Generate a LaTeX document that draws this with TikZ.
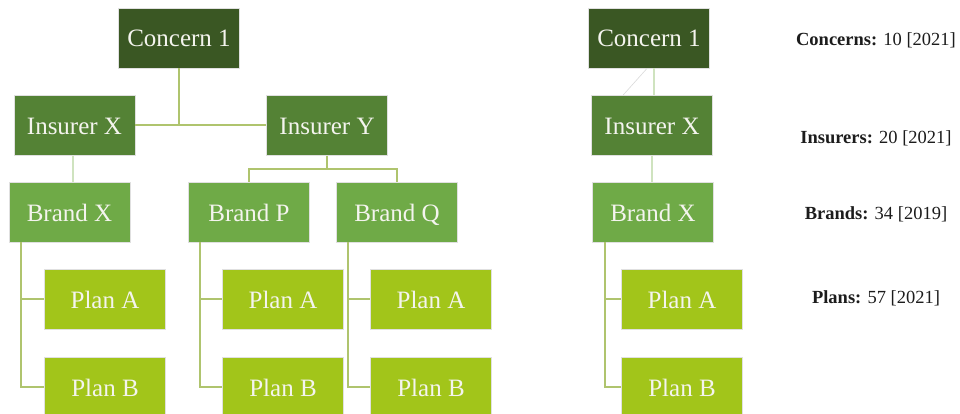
\documentclass[tikz,border=0pt]{standalone}
\usepackage{fontspec}
\setmainfont{Liberation Serif}
\definecolor{concernfill}{HTML}{3A5723}
\definecolor{insurerfill}{HTML}{548235}
\definecolor{brandfill}{HTML}{6FAA47}
\definecolor{planfill}{HTML}{A2C51A}
\definecolor{linkcol}{HTML}{AFC46E}
\definecolor{palelink}{HTML}{CFE3BF}
\definecolor{boxtext}{HTML}{F4F4EE}
\definecolor{sidetext}{HTML}{1C1C1C}
\begin{document}
\begin{tikzpicture}[x=1pt,y=-1pt,
  orgbox/.style={rectangle, draw=black!12, line width=0.8pt,
    minimum width=121pt, minimum height=60pt, inner sep=0pt,
    text height=20pt, text depth=2pt,
    text=boxtext, font=\fontsize{25}{29}\selectfont},
  concernbox/.style={orgbox, fill=concernfill},
  insurerbox/.style={orgbox, fill=insurerfill},
  brandbox/.style={orgbox, fill=brandfill},
  planbox/.style={orgbox, fill=planfill},
  link/.style={draw=linkcol, line width=2pt},
  palelink/.style={draw=palelink, line width=2pt},
  countlabel/.style={text=sidetext, font=\fontsize{18.5}{22}\selectfont}]
\useasboundingbox (0,0) rectangle (960,414);

% left tree
\node[concernbox] (c1) at (179,38) {Concern 1};
\node[insurerbox] (ix) at (74.5,125.5) {Insurer X};
\node[insurerbox] (iy) at (327,125.5) {Insurer Y};
\node[brandbox] (bx) at (69.5,212) {Brand X};
\node[brandbox] (bp) at (249,212) {Brand P};
\node[brandbox] (bq) at (397,212) {Brand Q};
\node[planbox] (pa1) at (105,299) {Plan A};
\node[planbox] (pb1) at (105,387) {Plan B};
\node[planbox] (pa2) at (283,299) {Plan A};
\node[planbox] (pb2) at (283,387) {Plan B};
\node[planbox] (pa3) at (431,299) {Plan A};
\node[planbox] (pb3) at (431,387) {Plan B};

% right column
\node[concernbox] (rc) at (649,38) {Concern 1};
\node[insurerbox] (rix) at (652,125.5) {Insurer X};
\node[brandbox] (rbx) at (653,212) {Brand X};
\node[planbox] (rpa) at (682,299) {Plan A};
\node[planbox] (rpb) at (682,387) {Plan B};

% side counts
\node[countlabel] (lc) at (876,40) {\textbf{Concerns:} 10 [2021]};
\node[countlabel] (li) at (876,138) {\textbf{Insurers:} 20 [2021]};
\node[countlabel] (lb) at (876,214) {\textbf{Brands:} 34 [2019]};
\node[countlabel] (lp) at (876,298) {\textbf{Plans:} 57 [2021]};

% connectors, left tree
\draw[link] (c1.south) -- (c1.south |- ix.east);
\draw[link] (ix.east) -- (iy.west);
\coordinate (iyj) at ([yshift=-13pt]iy.south);
\draw[link] (iy.south) -- (iyj) -| (bp.north);
\draw[link] (iyj) -| (bq.north);
\draw[palelink] ([xshift=-2pt]ix.south) -- ([xshift=-2pt]ix.south |- bx.north);
\foreach \b/\pa/\pb in {bx/pa1/pb1, bp/pa2/pb2, bq/pa3/pb3} {
  \draw[link] ([xshift=12pt]\b.south west) |- (\pa.west);
  \draw[link] ([xshift=12pt]\b.south west) |- (\pb.west);
}

% connectors, right column
\draw[palelink] ([xshift=5pt]rc.south) -- ([xshift=2pt]rix.north);
\draw[draw=black!15, line width=0.6pt] ([xshift=-2pt]rc.south) -- ([xshift=32pt]rix.north west);
\draw[palelink] (rix.south) -- (rix.south |- rbx.north);
\draw[link] ([xshift=13pt]rbx.south west) |- (rpa.west);
\draw[link] ([xshift=13pt]rbx.south west) |- (rpb.west);
\end{tikzpicture}
\end{document}
